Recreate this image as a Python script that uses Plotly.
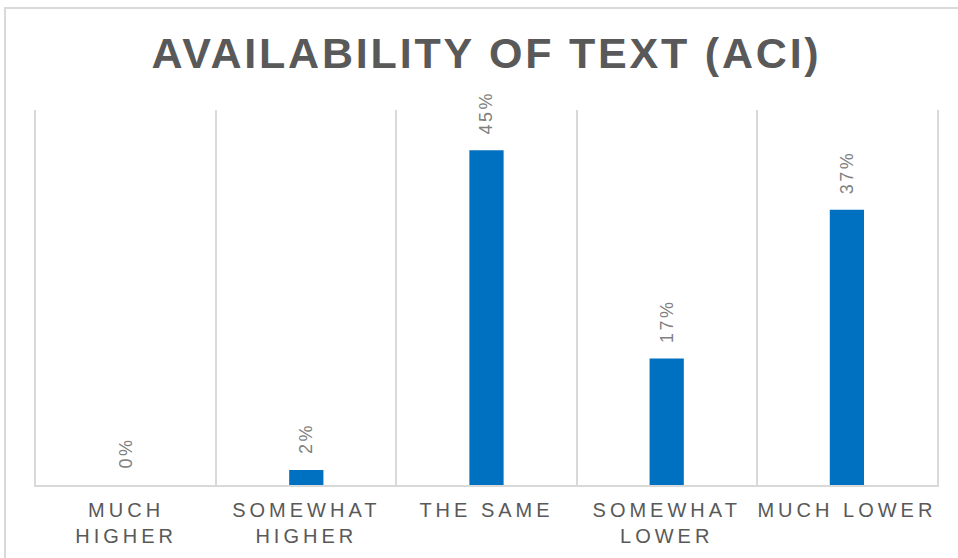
import plotly.graph_objects as go

# Survey responses: availability of text (ACI)
categories = ["MUCH<br>HIGHER", "SOMEWHAT<br>HIGHER", "THE SAME", "SOMEWHAT<br>LOWER", "MUCH LOWER"]
shares = [0, 2, 45, 17, 37]
labels = [f"{v}%" for v in shares]

W, H = 958, 558
ML, MR, MT, MB = 36, 21, 110, 73
FONT = "Liberation Sans, Arial"
GRID = "#d9d9d9"

fig = go.Figure(
    go.Bar(
        x=categories,
        y=shares,
        marker=dict(color="#0070c0", line=dict(width=0)),
        width=0.19,
        hoverinfo="skip",
    )
)

# rotated value labels sitting above each bar
for cat, val, lab in zip(categories, shares, labels):
    fig.add_annotation(
        x=cat, y=val, text=lab, textangle=-90, showarrow=False,
        xanchor="center", yanchor="bottom", yshift=17,
        font=dict(family=FONT, size=18, color="#808080"),
    )

# light frame around the whole chart area
pw, ph = W - ML - MR, H - MT - MB
fig.add_shape(
    type="rect", xref="paper", yref="paper",
    x0=(5 - ML) / pw, x1=(970 - ML) / pw,
    y0=(H - MB - 570) / ph, y1=(H - MB - 8) / ph,
    line=dict(color=GRID, width=2), fillcolor="rgba(0,0,0,0)", layer="below",
)

fig.update_layout(
    width=W, height=H,
    margin=dict(l=ML, r=MR, t=MT, b=MB),
    paper_bgcolor="white", plot_bgcolor="white",
    showlegend=False,
    title=dict(
        text="<b>AVAILABILITY OF TEXT (ACI)</b>",
        xref="paper", x=0.5, xanchor="center", y=0.905, yanchor="middle",
        font=dict(family=FONT, size=43, color="#595959"),
    ),
    xaxis=dict(
        tickson="boundaries", showgrid=True, gridcolor=GRID, gridwidth=1.5,
        showline=True, linecolor=GRID, linewidth=2, ticks="",
        ticklabelstandoff=6, automargin=False,
        tickfont=dict(family=FONT, size=20, color="#595959"),
    ),
    yaxis=dict(
        range=[0, 50.4], showgrid=False, showticklabels=False, zeroline=False,
        # outer category dividers on the left and right edges
        showline=True, mirror=True, linecolor=GRID, linewidth=1.5,
        automargin=False,
    ),
)

# widen the tracking of title, category and value labels
spacing_js = """
var gd = document.getElementById('{plot_id}');
function track(sel, px) {
  gd.querySelectorAll(sel).forEach(function (el) { el.style.letterSpacing = px; });
}
track('.gtitle', '2.8px');
track('.xtick text', '4px');
track('.annotation-text', '2.5px');
"""

fig.write_html("out.html", post_script=spacing_js)
